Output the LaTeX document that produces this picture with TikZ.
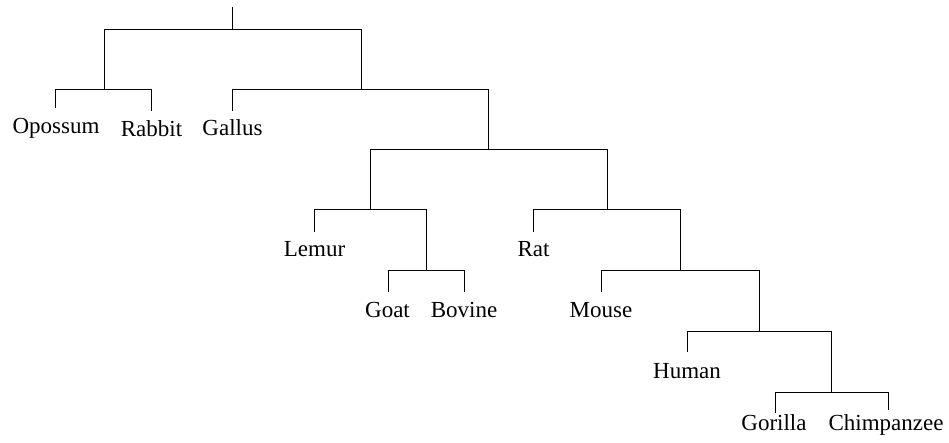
\documentclass[tikz,border=0pt]{standalone}
\usepackage{fontspec}
\setmainfont{Liberation Serif}
\begin{document}
\begin{tikzpicture}[x=1pt,y=-1pt,
  edge/.style={draw=black,line width=0.8pt},
  leaf/.style={anchor=base,inner sep=0pt,font=\fontsize{23}{27}\selectfont}]
\useasboundingbox (0,0) rectangle (949,443);
% internal nodes
\coordinate (top) at (232,7);
\coordinate (root) at (232,29);
\coordinate (A) at (104,89);
\coordinate (B) at (361,89);
\coordinate (C) at (488.5,149);
\coordinate (D) at (370,209);
\coordinate (E) at (607,209);
\coordinate (F) at (426,270.5);
\coordinate (G) at (680,270.5);
\coordinate (H) at (759,331);
\coordinate (I) at (831,392);
% leaf ends
\coordinate (eOpo) at (55,108);
\coordinate (eRab) at (151,111);
\coordinate (eGal) at (232,111);
\coordinate (eLem) at (314,232);
\coordinate (eGoa) at (388,292);
\coordinate (eBov) at (464,292);
\coordinate (eRat) at (533,232);
\coordinate (eMou) at (601,292);
\coordinate (eHum) at (687,352);
\coordinate (eGor) at (775,412.5);
\coordinate (eChi) at (888,410);
% labels
\node[leaf] (Opossum) at (56,134) {Opossum};
\node[leaf] (Rabbit) at (151.5,136.5) {Rabbit};
\node[leaf] (Gallus) at (232.5,136) {Gallus};
\node[leaf] (Lemur) at (314.5,256.5) {Lemur};
\node[leaf] (Goat) at (387.5,317) {Goat};
\node[leaf] (Bovine) at (464,317) {Bovine};
\node[leaf] (Rat) at (533.5,256.5) {Rat};
\node[leaf] (Mouse) at (601,317) {Mouse};
\node[leaf] (Human) at (687,378) {Human};
\node[leaf] (Gorilla) at (774,430) {Gorilla};
\node[leaf] (Chimpanzee) at (886,430) {Chimpanzee};
% edges
\draw[edge] (top) -- (root);
\draw[edge] (root) -| (A);
\draw[edge] (root) -| (B);
\draw[edge] (A) -| (eOpo);
\draw[edge] (A) -| (eRab);
\draw[edge] (B) -| (eGal);
\draw[edge] (B) -| (C);
\draw[edge] (C) -| (D);
\draw[edge] (C) -| (E);
\draw[edge] (D) -| (eLem);
\draw[edge] (D) -| (F);
\draw[edge] (F) -| (eGoa);
\draw[edge] (F) -| (eBov);
\draw[edge] (E) -| (eRat);
\draw[edge] (E) -| (G);
\draw[edge] (G) -| (eMou);
\draw[edge] (G) -| (H);
\draw[edge] (H) -| (eHum);
\draw[edge] (H) -| (I);
\draw[edge] (I) -| (eGor);
\draw[edge] (I) -| (eChi);
\end{tikzpicture}
\end{document}
